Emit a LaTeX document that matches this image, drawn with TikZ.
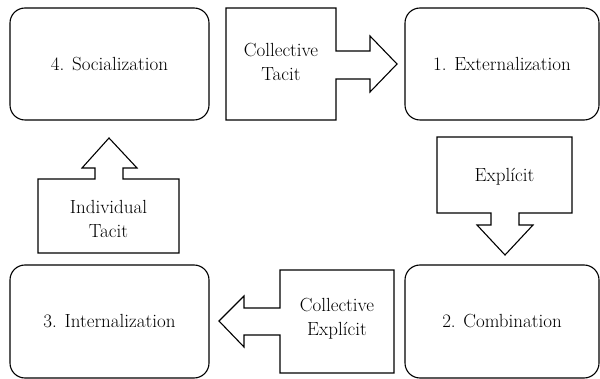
\documentclass[tikz,border=0pt]{standalone}
\begin{document}
\begin{tikzpicture}[x=1pt,y=-1pt,
  stage/.style={draw,line width=1.1pt,rounded corners=15pt},
  blockarrow/.style={draw,line width=1.1pt,line join=miter},
  lbl/.style={align=center,font=\rmfamily\fontsize{19}{24}\selectfont,inner sep=0pt}]
\useasboundingbox (0,0) rectangle (600,379);
% stage boxes
\draw[stage] (10,8) rectangle (209,120);
\draw[stage] (405,8) rectangle (599,120);
\draw[stage] (405,265) rectangle (599,378);
\draw[stage] (10,265) rectangle (209,378);
\node[lbl] (soc) at (109.5,64) {4. Socialization};
\node[lbl] (ext) at (502,64) {1. Externalization};
\node[lbl] (com) at (502,321.5) {2. Combination};
\node[lbl] (int) at (109.5,321.5) {3. Internalization};
% block arrows
\draw[blockarrow] (226,8) -- (336,8) -- (336,51) -- (370,51) -- (370,36) -- (397,64) -- (370,92) -- (370,79) -- (336,79) -- (336,120) -- (226,120) -- cycle;
\node[lbl] (ct) at (281,62) {Collective\\Tacit};
\draw[blockarrow] (437,137) -- (572,137) -- (572,213) -- (519,213) -- (519,225) -- (533,225) -- (505,255) -- (477,225) -- (491,225) -- (491,213) -- (437,213) -- cycle;
\node[lbl] (ex) at (504.5,177) {Expl\'{\i}cit};
\draw[blockarrow] (394,270) -- (394,373) -- (280,373) -- (280,335) -- (244,335) -- (244,347) -- (219,321) -- (244,296) -- (244,308) -- (280,308) -- (280,270) -- cycle;
\node[lbl] (ce) at (337,319) {Collective\\Expl\'{\i}cit};
\draw[blockarrow] (38,253) -- (38,179) -- (95,179) -- (95,168) -- (82,168) -- (109,138) -- (137,168) -- (123,168) -- (123,179) -- (179,179) -- (179,253) -- cycle;
\node[lbl] (it) at (108.5,219) {Individual\\Tacit};
\end{tikzpicture}
\end{document}
